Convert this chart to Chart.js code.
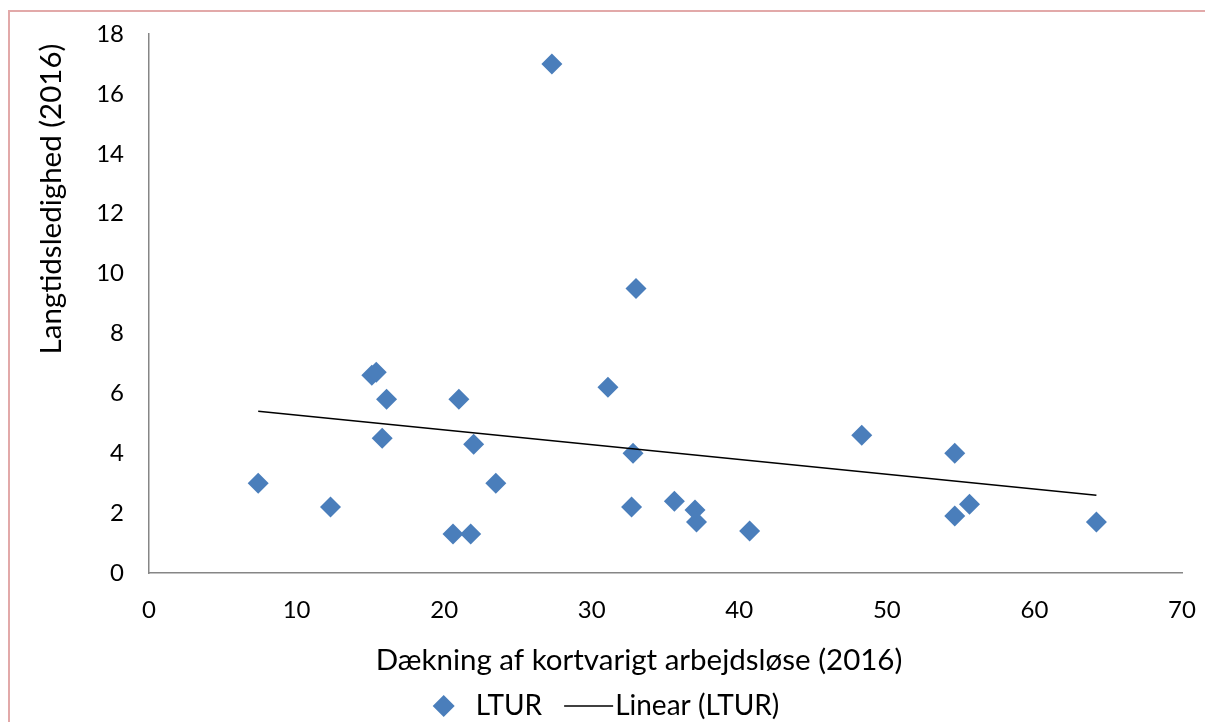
<!DOCTYPE html>
<html>
<head>
<meta charset="utf-8">
<script src="https://cdn.jsdelivr.net/npm/chart.js@4/dist/chart.umd.min.js"></script>
<style>
html,body{margin:0;padding:0;background:#fff;overflow:hidden;}
#wrap{position:relative;width:1205px;height:722px;overflow:hidden;}
#frame{position:absolute;left:8px;top:10px;width:1300px;height:800px;border:2px solid #e2a9a9;box-sizing:border-box;}
canvas{position:absolute;left:0;top:0;}
</style>
</head>
<body>
<div id="wrap"><div id="frame"></div><canvas id="c" width="1205" height="722"></canvas></div>
<script>
// Dækning af kortvarigt arbejdsløse (2016)
const coverage = [7.4, 12.3, 15.1, 15.4, 16.1, 15.8, 21.0, 22.0, 23.5, 20.6, 21.8, 27.3, 31.1, 33.0, 32.8, 32.7, 35.6, 37.0, 37.1, 40.7, 48.3, 54.6, 54.6, 55.6, 64.2];
// Langtidsledighed (2016)
const ltur =     [3.0, 2.2, 6.6, 6.7, 5.8, 4.5, 5.8, 4.3, 3.0, 1.3, 1.3, 17.0, 6.2, 9.5, 4.0, 2.2, 2.4, 2.1, 1.7, 1.4, 4.6, 4.0, 1.9, 2.3, 1.7];
// Linear (LTUR) trend line end points as drawn
const trendCoverage = [7.4, 64.2];
const trendLtur = [5.4, 2.6];
const xTicks = [0, 10, 20, 30, 40, 50, 60, 70];
const yTicks = [0, 2, 4, 6, 8, 10, 12, 14, 16, 18];

const xTitle = 'Dækning af kortvarigt arbejdsløse (2016)';
const yTitle = 'Langtidsledighed (2016)';
const seriesName = 'LTUR';
const trendName = 'Linear (LTUR)';

const FONT = 'Lato, "Open Sans", sans-serif';
const BLUE = '#4a7ebb';

const pts = coverage.map((x, i) => ({x: x, y: ltur[i]}));
const trend = trendCoverage.map((x, i) => ({x: x, y: trendLtur[i]}));

const overlay = {
  id: 'overlay',
  afterDraw(chart) {
    const ctx = chart.ctx;
    ctx.save();
    ctx.fillStyle = '#000';
    ctx.textBaseline = 'middle';
    // x title
    ctx.font = '29.5px ' + FONT;
    ctx.textAlign = 'center';
    ctx.fillText(xTitle, 639, 660);
    // y title
    ctx.save();
    ctx.translate(51, 199);
    ctx.rotate(-Math.PI / 2);
    ctx.fillText(yTitle, 0, 0);
    ctx.restore();
    // legend
    ctx.font = '28px ' + FONT;
    ctx.textAlign = 'left';
    const ly = 706;
    const w1 = ctx.measureText(seriesName).width;
    const w2 = ctx.measureText(trendName).width;
    const total = 22 + 21 + w1 + 22 + 49 + 2 + w2;
    let x = 606 - total / 2;
    // diamond
    ctx.fillStyle = BLUE;
    ctx.beginPath();
    ctx.moveTo(x + 11, ly - 11);
    ctx.lineTo(x + 22, ly);
    ctx.lineTo(x + 11, ly + 11);
    ctx.lineTo(x, ly);
    ctx.closePath();
    ctx.fill();
    x += 22 + 21;
    ctx.fillStyle = '#000';
    ctx.fillText(seriesName, x, ly);
    x += w1 + 22;
    ctx.strokeStyle = '#000';
    ctx.lineWidth = 1.5;
    ctx.beginPath();
    ctx.moveTo(x, ly);
    ctx.lineTo(x + 49, ly);
    ctx.stroke();
    x += 51;
    ctx.fillText(trendName, x, ly);
    ctx.restore();
  }
};

new Chart(document.getElementById('c'), {
  type: 'scatter',
  data: {
    datasets: [
      {
        label: seriesName,
        data: pts,
        pointStyle: 'rectRot',
        pointRadius: 10.5,
        pointHoverRadius: 10.5,
        backgroundColor: BLUE,
        borderColor: BLUE,
        borderWidth: 0,
        order: 2
      },
      {
        label: trendName,
        type: 'line',
        data: trend,
        showLine: true,
        borderColor: '#000',
        borderWidth: 1.5,
        pointRadius: 0,
        fill: false,
        order: 1
      }
    ]
  },
  options: {
    responsive: false,
    animation: false,
    events: [],
    layout: {padding: {top: 34, right: 23, left: 0, bottom: 0}},
    plugins: {legend: {display: false}, tooltip: {enabled: false}},
    scales: {
      x: {
        type: 'linear',
        min: 0, max: 70,
        afterBuildTicks: s => { s.ticks = xTicks.map(v => ({value: v})); },
        afterFit: s => { s.height = 149; },
        grid: {display: true, drawOnChartArea: false, drawTicks: true, tickLength: 19, color: 'rgba(0,0,0,0)'},
        border: {display: true, color: '#868686', width: 1.5},
        ticks: {color: '#000', font: {family: FONT, size: 24}, padding: 4, maxRotation: 0}
      },
      y: {
        type: 'linear',
        min: 0, max: 18,
        afterBuildTicks: s => { s.ticks = yTicks.map(v => ({value: v})); },
        afterFit: s => { s.width = 149; },
        grid: {display: true, drawOnChartArea: false, drawTicks: true, tickLength: 21, color: 'rgba(0,0,0,0)'},
        border: {display: true, color: '#868686', width: 1.5},
        ticks: {color: '#000', font: {family: FONT, size: 24}, padding: 4}
      }
    }
  },
  plugins: [overlay]
});
</script>
</body>
</html>
